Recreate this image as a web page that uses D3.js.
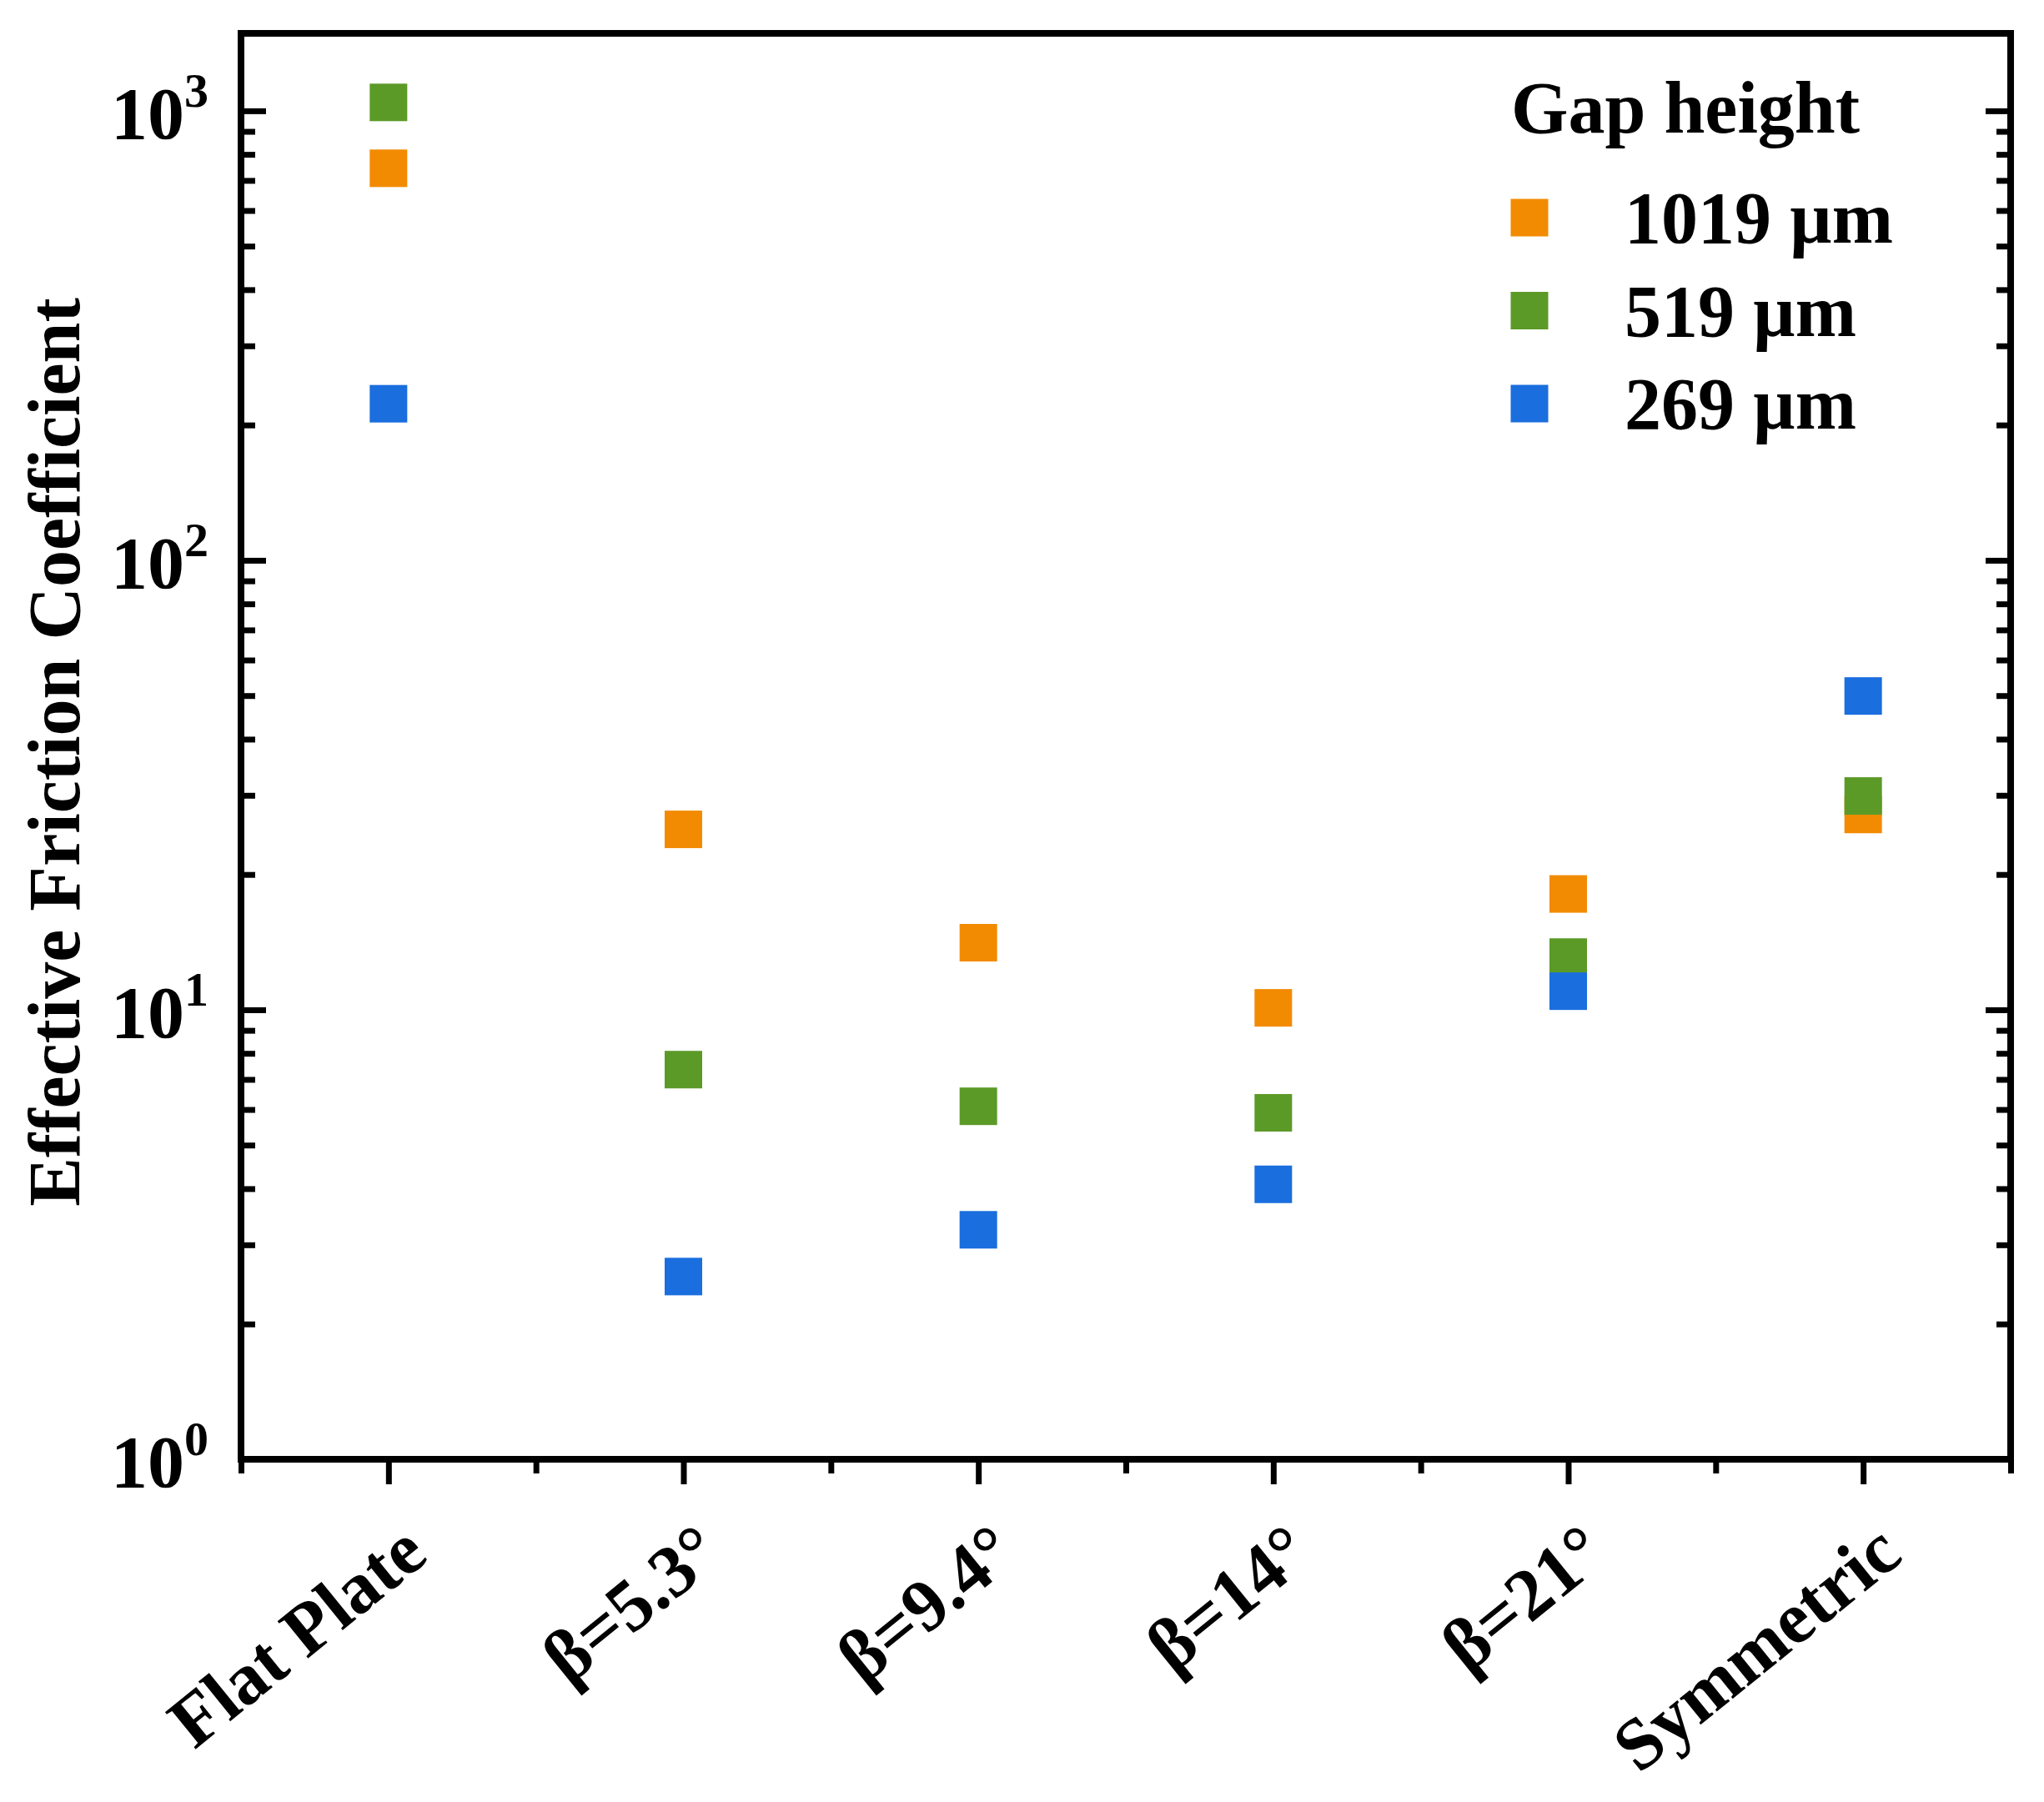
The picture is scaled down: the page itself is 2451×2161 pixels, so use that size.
<!DOCTYPE html>
<meta charset="utf-8">
<title>Effective Friction Coefficient</title>
<style>
body { margin: 0; background: #fff; }
svg text { font-family: "Times New Roman", "Liberation Serif", serif; font-weight: bold; fill: #000; }
</style>
<body>
<script src="https://d3js.org/d3.v7.min.js"></script>
<script>
// data
var categories = ["Flat Plate", "β=5.3°", "β=9.4°", "β=14°", "β=21°", "Symmetric"];
var gap1019 = [745, 25.2, 14.1, 10.1, 18.1, 27.2];
var gap519  = [1044, 7.36, 6.1, 5.9, 13.1, 29.9];
var gap269  = [223, 2.55, 3.24, 4.09, 11.0, 49.9];
var seriesNames = ["1019 µm", "519 µm", "269 µm"];
var seriesColors = ["#F28B02", "#5C9A28", "#1A6EDE"];
var majorTicks = [1, 10, 100, 1000];
var majorExp = ["0", "1", "2", "3"];

var W = 2451, H = 2161;
var pL = 289, pR = 2411, pT = 40, pB = 1750;

var svg = d3.select("body").append("svg")
    .attr("width", W)
    .attr("height", H);

svg.append("rect").attr("width", W).attr("height", H).attr("fill", "#fff");

var x = d3.scalePoint()
    .domain(categories)
    .range([pL, pR])
    .padding(0.5);

// linear copy of x for the minor ticks between categories
var xLin = d3.scaleLinear()
    .domain([-0.5, categories.length - 0.5])
    .range([pL, pR]);

var y = d3.scaleLog()
    .domain([1, 1487])
    .range([pB, pT]);

var minorY = [];
majorTicks.forEach(function(d) {
  for (var k = 2; k <= 9; k++) if (d * k < 1487) minorY.push(d * k);
});

function styleAxis(g, w) {
  g.select(".domain").remove();
  g.selectAll("line").attr("stroke", "#000").attr("stroke-width", w);
  g.selectAll("text").remove();
}

// left axis, ticks pointing in
svg.append("g").attr("transform", "translate(" + pL + ",0)")
    .call(d3.axisRight(y).tickValues(majorTicks).tickSize(30).tickSizeOuter(0))
    .call(styleAxis, 7);
svg.append("g").attr("transform", "translate(" + pL + ",0)")
    .call(d3.axisRight(y).tickValues(minorY).tickSize(17).tickSizeOuter(0))
    .call(styleAxis, 7);

// right axis, ticks pointing in
svg.append("g").attr("transform", "translate(" + pR + ",0)")
    .call(d3.axisLeft(y).tickValues(majorTicks).tickSize(30).tickSizeOuter(0))
    .call(styleAxis, 7);
svg.append("g").attr("transform", "translate(" + pR + ",0)")
    .call(d3.axisLeft(y).tickValues(minorY).tickSize(17).tickSizeOuter(0))
    .call(styleAxis, 7);

// bottom axis, ticks pointing out
svg.append("g").attr("transform", "translate(0," + pB + ")")
    .call(d3.axisBottom(x).tickSize(30).tickSizeOuter(0))
    .call(styleAxis, 7);
svg.append("g").attr("transform", "translate(0," + pB + ")")
    .call(d3.axisBottom(xLin).tickValues(d3.range(-0.5, categories.length, 1)).tickSize(17).tickSizeOuter(0))
    .call(styleAxis, 7);

// frame
svg.append("rect")
    .attr("x", pL).attr("y", pT)
    .attr("width", pR - pL).attr("height", pB - pT)
    .attr("fill", "none")
    .attr("stroke", "#000")
    .attr("stroke-width", 8);

// y tick labels 10^n
var yl = svg.append("g").selectAll("text")
    .data(majorTicks)
  .enter().append("text")
    .attr("x", 250)
    .attr("y", function(d) { return y(d) + 33; })
    .attr("text-anchor", "end")
    .style("font-size", "88px");
yl.append("tspan").text("10");
yl.append("tspan")
    .attr("dy", -38)
    .style("font-size", "58px")
    .text(function(d, i) { return majorExp[i]; });

// x tick labels, rotated
svg.append("g").selectAll("text")
    .data(categories)
  .enter().append("text")
    .attr("transform", function(d) {
      return "translate(" + (x(d) + 50) + "," + (pB + 120) + ") rotate(-39)";
    })
    .attr("text-anchor", "end")
    .style("font-size", "88px")
    .text(function(d) { return d; });

// y title
svg.append("text")
    .attr("transform", "translate(95," + ((pT + pB) / 2 + 7) + ") rotate(-90)")
    .attr("text-anchor", "middle")
    .style("font-size", "88px")
    .text("Effective Friction Coefficient");

// points, drawn orange then green then blue
var S = 45;
[gap1019, gap519, gap269].forEach(function(vals, si) {
  svg.append("g").selectAll("rect")
      .data(vals)
    .enter().append("rect")
      .attr("x", function(d, i) { return x(categories[i]) - S / 2; })
      .attr("y", function(d) { return y(d) - S / 2; })
      .attr("width", S)
      .attr("height", S)
      .attr("fill", seriesColors[si]);
});

// legend
var lg = svg.append("g");
lg.append("text")
    .attr("x", 1812).attr("y", 159)
    .style("font-size", "88px")
    .text("Gap height");
var item = lg.selectAll("g.item")
    .data(seriesNames)
  .enter().append("g")
    .attr("class", "item")
    .attr("transform", function(d, i) { return "translate(1834," + (261 + i * 111.5) + ")"; });
item.append("rect")
    .attr("x", -S / 2).attr("y", -S / 2)
    .attr("width", S).attr("height", S)
    .attr("fill", function(d, i) { return seriesColors[i]; });
item.append("text")
    .attr("x", 114).attr("y", 30)
    .style("font-size", "88px")
    .text(function(d) { return d; });
</script>
</body>
